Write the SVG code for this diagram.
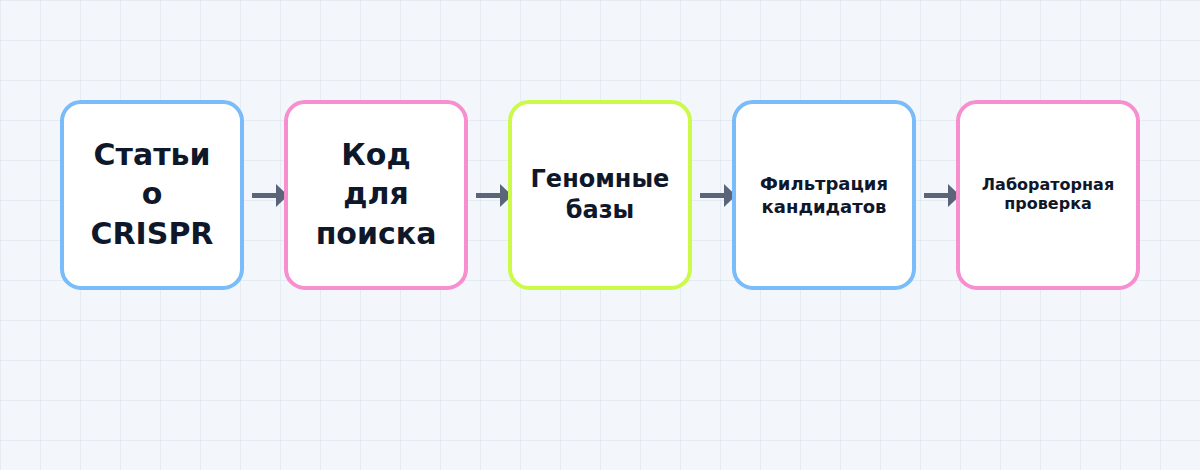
<svg xmlns="http://www.w3.org/2000/svg" width="1200" height="470" viewBox="0 0 1200 470">
<defs>
<pattern id="grid" width="40" height="40" patternUnits="userSpaceOnUse">
<path d="M40 0H0V40" fill="none" stroke="#e0e7f1" stroke-width="1.5"/>
</pattern>
<style>
.node rect{fill:#ffffff;stroke-width:4}
.blue rect{stroke:#7abcf9}
.pink rect{stroke:#f78fcf}
.lime rect{stroke:#cbfa48}
.node text{font-family:"DejaVu Sans",sans-serif;font-weight:bold;fill:#0f172a;text-anchor:middle}
.conn line{stroke:#5b6579;stroke-width:5}
.conn polygon{fill:#5b6579}
</style>
</defs>
<rect width="1200" height="470" fill="#f3f6fa"/>
<rect width="1200" height="470" fill="url(#grid)"/>
<g id="connectors" class="conn">
<line x1="252" y1="195.5" x2="277" y2="195.5"/><polygon points="276,184 288,195.5 276,207"/>
<line x1="476" y1="195.5" x2="501" y2="195.5"/><polygon points="500,184 512,195.5 500,207"/>
<line x1="700" y1="195.5" x2="725" y2="195.5"/><polygon points="724,184 736,195.5 724,207"/>
<line x1="924" y1="195.5" x2="949" y2="195.5"/><polygon points="948,184 960,195.5 948,207"/>
</g>
<g id="node1" class="node blue">
<rect x="62" y="102" width="180" height="186" rx="19"/>
<text font-size="30"><tspan x="152" y="164.5">Статьи</tspan><tspan x="152" y="204">о</tspan><tspan x="152" y="243.5">CRISPR</tspan></text>
</g>
<g id="node2" class="node pink">
<rect x="286" y="102" width="180" height="186" rx="19"/>
<text font-size="30"><tspan x="376" y="164.5">Код</tspan><tspan x="376" y="204">для</tspan><tspan x="376" y="243.5">поиска</tspan></text>
</g>
<g id="node3" class="node lime">
<rect x="510" y="102" width="180" height="186" rx="19"/>
<text font-size="24"><tspan x="600" y="187.2">Геномные</tspan><tspan x="600" y="218">базы</tspan></text>
</g>
<g id="node4" class="node blue">
<rect x="734" y="102" width="180" height="186" rx="19"/>
<text font-size="18"><tspan x="824" y="189.5">Фильтрация</tspan><tspan x="824" y="212.7">кандидатов</tspan></text>
</g>
<g id="node5" class="node pink">
<rect x="958" y="102" width="180" height="186" rx="19"/>
<text font-size="16"><tspan x="1048" y="190.3">Лабораторная</tspan><tspan x="1048" y="208.5">проверка</tspan></text>
</g>
</svg>
